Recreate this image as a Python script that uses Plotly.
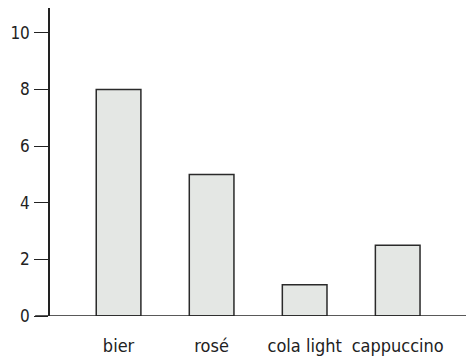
import plotly.graph_objects as go

categories = ["bier", "rosé", "cola light", "cappuccino"]
values = [8, 5, 1.1, 2.5]
ytick_vals = [0, 2, 4, 6, 8, 10]

FONT = "DejaVu Sans Condensed, Liberation Sans Narrow, sans-serif"

fig = go.Figure(go.Bar(
    x=categories, y=values, width=0.48,
    marker=dict(color="#e4e7e4", line=dict(color="#2a2a2a", width=1.5)),
))

# The page body has an 8px margin, so the figure is sized to fit the window.
fig.update_layout(
    width=466, height=352,
    margin=dict(l=42, r=0, t=0, b=44),
    plot_bgcolor="white", paper_bgcolor="white",
    showlegend=False,
    font=dict(family=FONT, size=18, color="#222"),
    xaxis=dict(range=[-0.737, 3.82], showline=False, showgrid=False, zeroline=False,
               ticks="", tickfont=dict(size=18), ticklabelstandoff=17, automargin=False),
    yaxis=dict(range=[0, 10.88], tickvals=ytick_vals, showgrid=False, zeroline=False,
               showline=True, linecolor="#222", linewidth=1.5,
               ticks="outside", ticklen=14, tickcolor="#222", tickwidth=1.2,
               tickfont=dict(size=17), ticklabelstandoff=1, automargin=False),
    shapes=[dict(type="line", xref="paper", yref="y", x0=-0.035, x1=1, y0=0, y1=0,
                 line=dict(color="#222", width=1.5))],
)

fig.write_html("out.html")
